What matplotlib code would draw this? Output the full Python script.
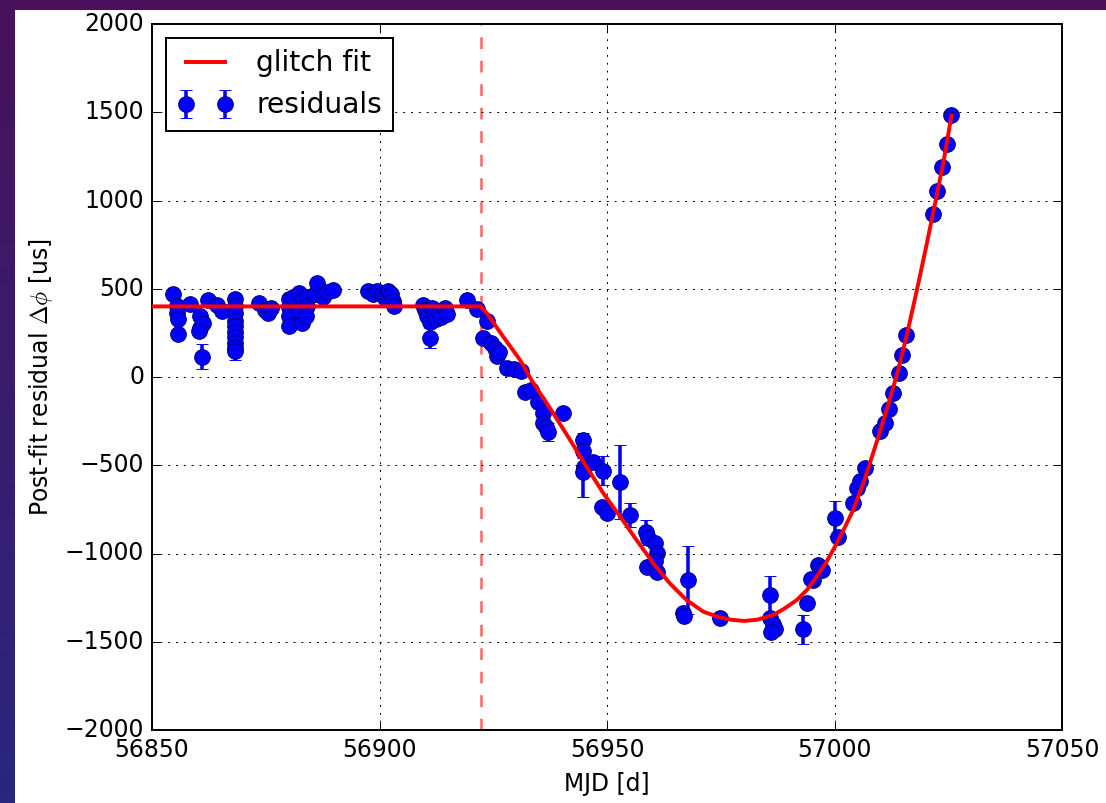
import numpy as np
import matplotlib
matplotlib.use("Agg")
import matplotlib.pyplot as plt
from matplotlib.patches import Rectangle

plt.style.use("classic")

# timing residuals (MJD, residual in us, 1-sigma error)
mjd = [56854.7, 56855.6, 56855.4, 56855.8, 56855.8, 56858.3, 56860.5, 56860.5,
       56861.3, 56860.3, 56860.9, 56862.4, 56864.2, 56865.3,
       56868.2, 56868.2, 56868.2, 56868.2, 56868.2, 56868.2, 56868.2, 56868.2,
       56868.2, 56868.2, 56873.5, 56874.8, 56875.4, 56876.2,
       56880.0, 56880.0, 56880.0, 56880.0, 56881.0, 56882.2, 56882.2, 56882.9,
       56883.2, 56884.0, 56884.0, 56883.8, 56885.8, 56886.2, 56887.6, 56888.5,
       56889.8,
       56897.5, 56898.5, 56899.5, 56900.5, 56901.2, 56901.8, 56902.5, 56903.0,
       56903.2,
       56909.5, 56910.0, 56910.5, 56911.0, 56911.5, 56912.0, 56912.5, 56913.0,
       56913.5, 56914.5, 56914.8, 56911.0, 56919.2,
       56921.4, 56923.6, 56922.8, 56924.5, 56925.4, 56925.8, 56926.3, 56928.0,
       56929.5, 56931.0, 56932.0, 56933.4, 56934.9, 56936.0, 56936.0, 56936.6,
       56937.1, 56940.4,
       56944.8, 56944.8, 56945.0, 56944.8, 56947.0, 56949.2, 56948.8, 56950.0,
       56952.9, 56955.0, 56958.5, 56959.0, 56960.5, 56961.0, 56958.7, 56961.0,
       56960.5, 56967.9, 56966.8, 56967.0, 56974.8,
       56985.8, 56985.8, 56986.5, 56987.0, 56986.0, 56993.9, 56993.1, 56995.3,
       56996.4, 56997.2, 56994.9, 57000.1, 57000.8, 57004.1, 57004.9, 57005.5,
       57006.8, 57009.9, 57011.0, 57012.0, 57012.8, 57014.2, 57014.8, 57015.8,
       57021.7, 57022.6, 57023.6, 57024.8, 57025.5]
resid = [470, 405, 360, 330, 245, 415, 345, 275,
         305, 260, 115, 435, 408, 372,
         440, 400, 360, 320, 290, 255, 225, 190,
         165, 145, 418, 382, 365, 390,
         440, 395, 345, 290, 455, 475, 380, 305,
         440, 455, 400, 345, 472, 530, 455, 480,
         492,
         485, 470, 490, 470, 450, 485, 470, 430,
         400,
         410, 380, 345, 310, 390, 360, 330, 370,
         340, 390, 355, 222, 436,
         385, 315, 221, 195, 164, 120, 140, 50,
         45, 35, -83, -74, -140, -204, -261, -285,
         -310, -206,
         -357, -420, -510, -540, -480, -530, -735, -772,
         -593, -782, -880, -910, -940, -999, -1075, -1103,
         -1040, -1150, -1339, -1355, -1367,
         -1235, -1365, -1400, -1430, -1445, -1283, -1430, -1150,
         -1065, -1094, -1143, -801, -905, -716, -631, -591,
         -515, -305, -261, -179, -92, 20, 124, 237,
         922, 1056, 1192, 1320, 1485]
err = [25, 20, 20, 20, 25, 20, 20, 25,
       20, 20, 70, 20, 20, 20,
       20, 20, 20, 20, 20, 20, 20, 20,
       20, 50, 15, 15, 15, 15,
       20, 20, 20, 20, 20, 20, 20, 20,
       20, 20, 20, 20, 20, 20, 20, 20,
       20,
       20, 20, 20, 20, 20, 20, 20, 20,
       20,
       20, 20, 20, 20, 20, 20, 20, 20,
       20, 20, 20, 55, 20,
       15, 20, 20, 20, 20, 20, 20, 15,
       15, 15, 15, 15, 15, 15, 20, 20,
       50, 15,
       40, 40, 20, 140, 25, 80, 20, 20,
       210, 70, 70, 30, 20, 20, 20, 20,
       20, 190, 20, 20, 20,
       105, 30, 20, 20, 20, 20, 80, 20,
       20, 20, 20, 100, 20, 20, 20, 20,
       20, 20, 20, 20, 20, 20, 20, 20,
       20, 20, 20, 20, 20]

# glitch model curve
fit_mjd = [56850.0, 56922.2, 56923.6, 56927.2, 56930.9, 56933.4, 56938.2,
           56941.9, 56945.5, 56949.2, 56952.9, 56956.5, 56960.2, 56963.8,
           56967.5, 56971.2, 56974.8, 56977.5, 56980.2, 56983.0, 56986.5,
           56989.0, 56991.7, 56994.0, 56996.1, 56998.3, 57000.5, 57002.3,
           57004.1, 57006.5, 57008.0, 57010.0, 57012.0, 57014.0, 57016.0,
           57018.0, 57020.0, 57022.0, 57024.0, 57025.7]
fit_resid = [400, 400, 361, 228, 96, -17, -206,
             -357, -508, -659, -791, -924, -1056, -1169,
             -1264, -1330, -1362, -1376, -1382, -1375, -1349,
             -1312, -1264, -1205, -1131, -1045, -942, -850,
             -754, -590, -470, -310, -140, 40, 250,
             480, 720, 970, 1225, 1480]

glitch_mjd = 56922.3

fig = plt.figure(figsize=(1106 / 141, 803 / 141), dpi=141)

# slide-style backdrop with a white panel
bg = fig.add_axes([0, 0, 1, 1], zorder=-10)
t = np.linspace(0, 1, 256)[:, None]
top = np.array([0.29, 0.07, 0.36])
bot = np.array([0.16, 0.15, 0.50])
grad = (1 - t)[..., None] * top + t[..., None] * bot
grad = np.repeat(grad, 4, axis=1)
bg.imshow(grad, aspect="auto", extent=[0, 1, 0, 1])
bg.add_patch(Rectangle((15 / 1106, 0), 1, 1 - 10 / 803, facecolor="white",
                       edgecolor="none"))
bg.set_xlim(0, 1)
bg.set_ylim(0, 1)
bg.axis("off")

ax = fig.add_axes([152 / 1106, 73 / 803, 910 / 1106, 706 / 803])
ax.errorbar(mjd, resid, yerr=err, fmt="bo", ms=8, capsize=3,
            elinewidth=1.8, capthick=1.5, mec="#00007a", mew=0.5,
            label="residuals", zorder=2)
ax.plot(fit_mjd, fit_resid, "r-", lw=2.0, label="glitch fit", zorder=3)
ax.axvline(glitch_mjd, color="r", ls="--", lw=1.3, alpha=0.6)

ax.set_xlim(56850, 57050)
ax.set_ylim(-2000, 2000)
ax.set_xticks(np.arange(56850, 57051, 50))
ax.set_yticks(np.arange(-2000, 2001, 500))
ax.ticklabel_format(useOffset=False)
ax.grid(True)
ax.set_xlabel("MJD [d]")
ax.set_ylabel(r"Post-fit residual $\Delta\phi$ [us]")
ax.legend(loc="upper left", numpoints=2)

fig.savefig("out.png", dpi=141, facecolor=fig.get_facecolor())
